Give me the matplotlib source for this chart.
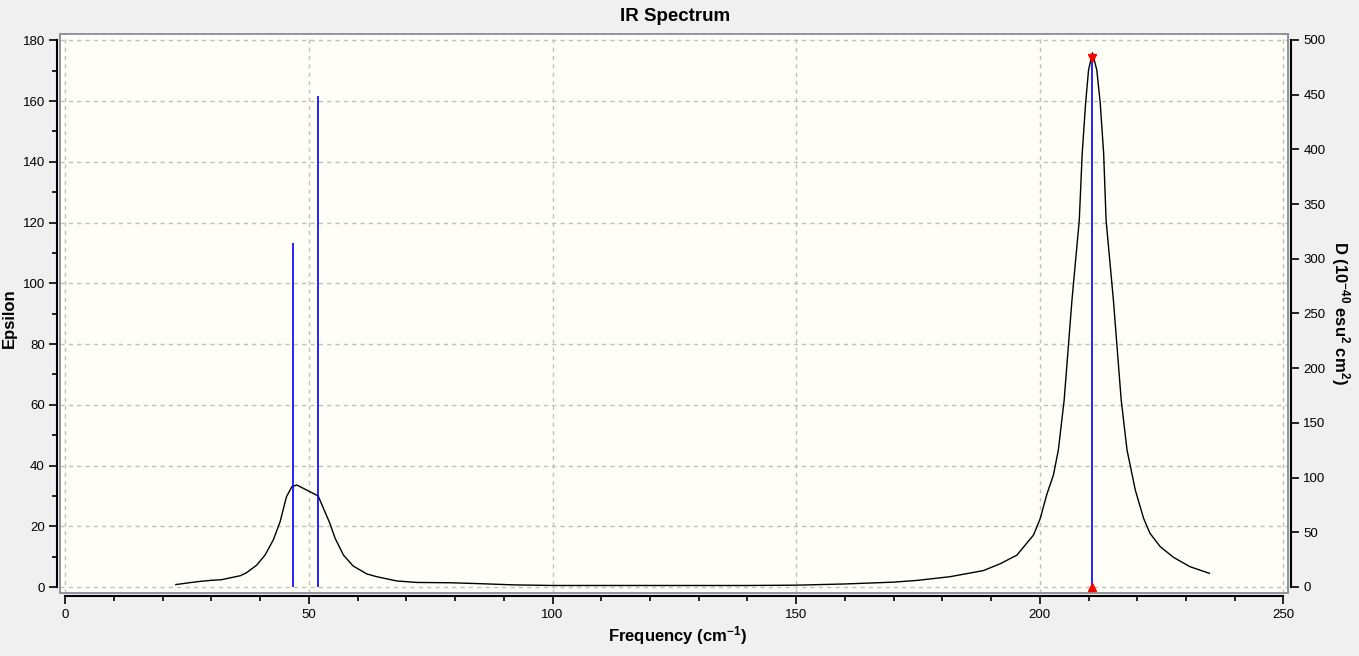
import matplotlib
matplotlib.use("Agg")
import matplotlib.pyplot as plt
from matplotlib.patches import Rectangle
from matplotlib.ticker import MultipleLocator

plt.rcParams['font.family'] = ['Liberation Sans', 'DejaVu Sans']
plt.rcParams['mathtext.fontset'] = 'custom'
plt.rcParams['mathtext.rm'] = 'Liberation Sans:bold'
plt.rcParams['mathtext.it'] = 'Liberation Sans:bold'
plt.rcParams['mathtext.bf'] = 'Liberation Sans:bold'

# broadened spectrum (frequency in cm-1, epsilon)
freq = [22.7, 25.9, 28.0, 30.0, 32.1, 33.8, 35.9, 37.2, 39.3, 41.0, 42.7,
        44.1, 45.4, 46.5, 47.5, 51.9, 54.3, 55.4, 57.1, 59.1, 61.9, 63.9,
        68.0, 72.1, 79.0, 85.0, 92.0, 100.0, 120.0, 140.0, 150.0, 155.0,
        160.0, 165.0, 170.0, 175.0, 181.6, 188.4, 191.8, 195.3, 198.7,
        200.1, 201.4, 202.8, 203.8, 205.0, 206.6, 208.1, 208.7, 209.4,
        210.0, 210.8, 211.7, 212.4, 213.1, 213.6, 215.1, 216.7, 217.9,
        219.6, 221.3, 222.6, 224.7, 227.4, 230.8, 234.8]
epsilon = [0.8, 1.5, 1.9, 2.2, 2.4, 3.0, 3.7, 4.7, 7.2, 10.5, 15.5,
           21.5, 29.7, 33.0, 33.6, 30.0, 21.0, 16.0, 10.5, 6.9, 4.3, 3.4,
           2.0, 1.5, 1.4, 1.1, 0.7, 0.5, 0.5, 0.5, 0.6, 0.8,
           1.0, 1.3, 1.6, 2.2, 3.4, 5.4, 7.6, 10.5, 17.1,
           22.6, 30.3, 36.9, 45.1, 61.6, 94.5, 120.8, 142.8, 159.3,
           170.2, 175.9, 170.2, 159.3, 142.8, 120.8, 94.5, 61.6, 45.1,
           31.9, 22.6, 17.7, 13.3, 9.8, 6.7, 4.5]

# stick spectrum (frequency, D in 10^-40 esu^2 cm^2)
stick_freq = [46.8, 51.9, 210.8]
stick_d = [314, 449, 484]
selected = 2  # highlighted mode

fig = plt.figure(figsize=(13.59, 6.56), dpi=100, facecolor='#F0F0F0')
ax = fig.add_axes([0.0444, 0.0956, 0.9036, 0.8526])
ax.set_facecolor('#FFFFF7')
ax2 = ax.twinx()

ax.plot(freq, epsilon, color='black', lw=1.0, zorder=3)
ax2.vlines(stick_freq, 0, stick_d, color='#0000FF', lw=1.2, zorder=2)
ax2.plot(stick_freq[selected], stick_d[selected], marker='v', color='red',
         ms=6, zorder=4, clip_on=False)
ax2.plot(stick_freq[selected], 0, marker='^', color='red', ms=6, zorder=4,
         clip_on=False)

ax.set_xlim(-1.0, 251.0)
ax.set_ylim(-2.07, 182.1)
ax2.set_ylim(-5.76, 505.5)

ax.xaxis.set_major_locator(MultipleLocator(50))
ax.xaxis.set_minor_locator(MultipleLocator(10))
ax.yaxis.set_major_locator(MultipleLocator(20))
ax.yaxis.set_minor_locator(MultipleLocator(10))
ax2.yaxis.set_major_locator(MultipleLocator(50))

ax.grid(True, which='major', color='#C0C0C0', ls=(0, (3, 3)), lw=1.0)
ax.set_axisbelow(True)

for a in (ax, ax2):
    for s in a.spines.values():
        s.set_visible(False)
ax.spines['left'].set_visible(True)
ax.spines['bottom'].set_visible(True)
ax2.spines['right'].set_visible(True)
for name, a, lo, hi in [('left', ax, 0, 180), ('bottom', ax, 0, 250),
                        ('right', ax2, 0, 500)]:
    sp = a.spines[name]
    sp.set_position(('outward', 2.2))
    sp.set_bounds(lo, hi)
    sp.set_linewidth(1.5)
    sp.set_color('black')

ax.tick_params(which='major', length=5.5, width=1.2, labelsize=9.5, pad=3.5)
ax.tick_params(which='minor', length=3.5, width=1.2)
ax2.tick_params(which='major', length=5.5, width=1.2, labelsize=9.5, pad=3)

# plot area frame
ax.add_patch(Rectangle((0, 0), 1, 1, transform=ax.transAxes, fill=False,
                       edgecolor='#868C94', lw=1.3, zorder=5, clip_on=False))

fig.text(0.497, 0.9756, 'IR Spectrum', ha='center', va='center',
         fontsize=13.5, fontweight='bold')
fig.text(0.4985, 0.031, 'Frequency (cm$^{-1}$)', ha='center', va='center',
         fontsize=12, fontweight='bold')
fig.text(0.0068, 0.515, 'Epsilon', ha='center', va='center', rotation=90,
         fontsize=12, fontweight='bold')
fig.text(0.986, 0.523, 'D (10$^{-40}$ esu$^{2}$ cm$^{2}$)', ha='center',
         va='center', rotation=270, fontsize=12, fontweight='bold')

fig.savefig('out.png', dpi=100, facecolor=fig.get_facecolor())
